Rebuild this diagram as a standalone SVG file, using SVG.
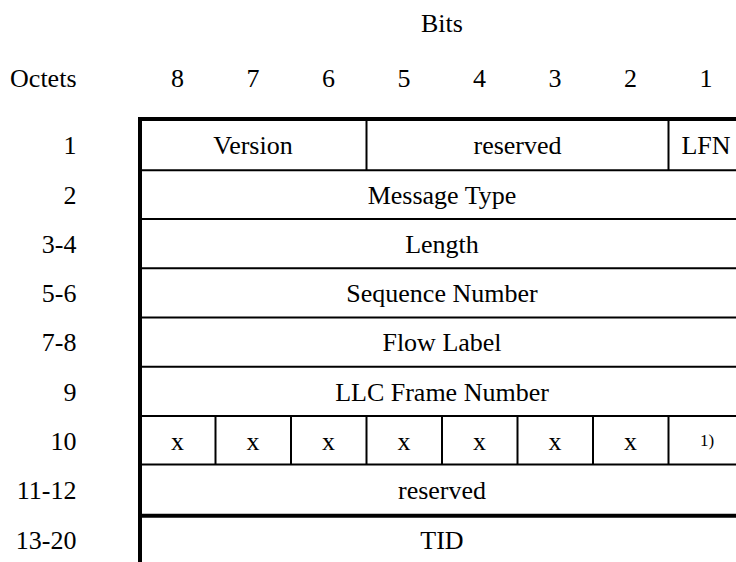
<svg xmlns="http://www.w3.org/2000/svg" width="736" height="562" viewBox="0 0 736 562">
<style>
text{font-family:"Liberation Serif","Times New Roman",serif;font-size:26px;fill:#000}
.c{text-anchor:middle}
.r{text-anchor:end}
.fn{font-size:17px}
.thin{stroke:#000;stroke-width:2;fill:none}
.thick{stroke:#000;stroke-width:4;fill:none}
</style>
<rect width="736" height="562" fill="#fff"/>
<g id="header">
<text class="c" x="442" y="32">Bits</text>
<text class="r" x="76.5" y="87">Octets</text>
<text class="c" x="177.5" y="87">8</text>
<text class="c" x="253" y="87">7</text>
<text class="c" x="328.5" y="87">6</text>
<text class="c" x="404" y="87">5</text>
<text class="c" x="479.5" y="87">4</text>
<text class="c" x="555" y="87">3</text>
<text class="c" x="630.5" y="87">2</text>
<text class="c" x="706" y="87">1</text>
</g>
<g id="octet-labels">
<text class="r" x="76.5" y="154">1</text>
<text class="r" x="76.5" y="203.6">2</text>
<text class="r" x="76.5" y="252.8">3-4</text>
<text class="r" x="76.5" y="302">5-6</text>
<text class="r" x="76.5" y="351.3">7-8</text>
<text class="r" x="76.5" y="400.5">9</text>
<text class="r" x="76.5" y="449.6">10</text>
<text class="r" x="76.5" y="499">11-12</text>
<text class="r" x="76.5" y="549.4">13-20</text>
</g>
<g id="lines">
<line class="thin" x1="140" y1="170.3" x2="736" y2="170.3"/>
<line class="thin" x1="140" y1="219" x2="736" y2="219"/>
<line class="thin" x1="140" y1="268.2" x2="736" y2="268.2"/>
<line class="thin" x1="140" y1="317.6" x2="736" y2="317.6"/>
<line class="thin" x1="140" y1="366.8" x2="736" y2="366.8"/>
<line class="thin" x1="140" y1="416" x2="736" y2="416"/>
<line class="thin" x1="140" y1="464.4" x2="736" y2="464.4"/>
<line class="thick" x1="140" y1="515.8" x2="736" y2="515.8"/>
<line class="thin" x1="366.5" y1="119" x2="366.5" y2="170.3"/>
<line class="thin" x1="668.5" y1="119" x2="668.5" y2="170.3"/>
<line class="thin" x1="215.5" y1="416" x2="215.5" y2="464.4"/>
<line class="thin" x1="291" y1="416" x2="291" y2="464.4"/>
<line class="thin" x1="366.5" y1="416" x2="366.5" y2="464.4"/>
<line class="thin" x1="442" y1="416" x2="442" y2="464.4"/>
<line class="thin" x1="517.5" y1="416" x2="517.5" y2="464.4"/>
<line class="thin" x1="593" y1="416" x2="593" y2="464.4"/>
<line class="thin" x1="668.5" y1="416" x2="668.5" y2="464.4"/>
<line class="thick" x1="138" y1="119" x2="736" y2="119"/>
<line class="thick" x1="140" y1="117" x2="140" y2="562"/>
</g>
<g id="row1">
<g id="version"><text class="c" x="253" y="154">Version</text></g>
<g id="reserved1"><text class="c" x="517.5" y="154">reserved</text></g>
<g id="lfn"><text class="c" x="706" y="154">LFN</text></g>
</g>
<g id="message-type"><text class="c" x="442" y="203.6">Message Type</text></g>
<g id="length"><text class="c" x="442" y="252.8">Length</text></g>
<g id="sequence-number"><text class="c" x="442" y="302">Sequence Number</text></g>
<g id="flow-label"><text class="c" x="442" y="351.3">Flow Label</text></g>
<g id="llc-frame-number"><text class="c" x="442" y="400.5">LLC Frame Number</text></g>
<g id="row10">
<text class="c" x="177.5" y="449.6">x</text>
<text class="c" x="253" y="449.6">x</text>
<text class="c" x="328.5" y="449.6">x</text>
<text class="c" x="404" y="449.6">x</text>
<text class="c" x="479.5" y="449.6">x</text>
<text class="c" x="555" y="449.6">x</text>
<text class="c" x="630.5" y="449.6">x</text>
<text class="c fn" x="707" y="446">1)</text>
</g>
<g id="reserved2"><text class="c" x="442" y="499">reserved</text></g>
<g id="tid"><text class="c" x="442" y="549.4">TID</text></g>
</svg>
